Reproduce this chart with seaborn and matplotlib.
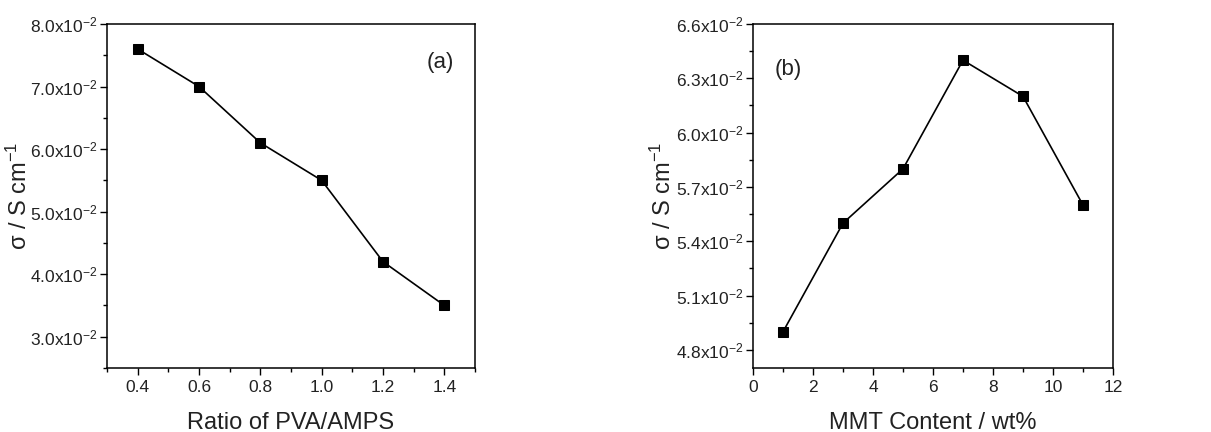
"""
Conductivity of PVA/AMPS membranes: (a) vs PVA/AMPS ratio, (b) vs MMT content.
Saves out.png.
"""

import matplotlib.pyplot as plt
import pandas as pd
import seaborn as sns
from matplotlib.ticker import FuncFormatter, MultipleLocator

ratio = [0.4, 0.6, 0.8, 1.0, 1.2, 1.4]
sigma_ratio = [0.076, 0.070, 0.061, 0.055, 0.042, 0.035]

mmt_content = [1, 3, 5, 7, 9, 11]
sigma_mmt = [0.049, 0.055, 0.058, 0.064, 0.062, 0.056]

sns.set_theme(style="ticks")
plt.rcParams["font.family"] = ["Liberation Sans", "DejaVu Sans"]
plt.rcParams["mathtext.fontset"] = "custom"
plt.rcParams["mathtext.rm"] = "Liberation Sans"
plt.rcParams["mathtext.it"] = "Liberation Sans:italic"
plt.rcParams["mathtext.default"] = "regular"

TEXT = "#222222"


def sci_fmt(val, _pos):
    return r"$%.1f\mathrm{x}10^{-2}$" % (val * 100)


def style_axes(ax, ylab_x):
    for sp in ax.spines.values():
        sp.set_color("black")
        sp.set_linewidth(1.1)
    ax.tick_params(which="both", direction="out", color="black",
                   top=False, right=False, labelsize=12.5, labelcolor=TEXT)
    ax.tick_params(which="major", length=5, width=1.0)
    ax.tick_params(which="minor", length=3, width=1.0)
    ax.tick_params(axis="y", which="both", pad=1.5)
    ax.tick_params(axis="x", which="both", pad=4)
    ax.yaxis.set_major_formatter(FuncFormatter(sci_fmt))
    ax.set_ylabel(r"$\sigma$ / S cm$^{-1}$", fontsize=17, color=TEXT)
    ax.yaxis.set_label_coords(ylab_x, 0.5)
    ax.xaxis.set_label_coords(0.5, -0.128)


fig = plt.figure(figsize=(12.11, 4.32), dpi=100)

df_a = pd.DataFrame({"ratio": ratio, "sigma": sigma_ratio})
ax1 = fig.add_axes([107 / 1211, 64 / 432, 368 / 1211, 344 / 432])
sns.lineplot(data=df_a, x="ratio", y="sigma", marker="s", markersize=7,
             color="black", linewidth=1.2, markeredgecolor="black", ax=ax1)
ax1.set_xlim(0.3, 1.5)
ax1.set_ylim(0.025, 0.08)
ax1.xaxis.set_major_locator(MultipleLocator(0.2))
ax1.xaxis.set_minor_locator(MultipleLocator(0.1))
ax1.yaxis.set_major_locator(MultipleLocator(0.01))
ax1.yaxis.set_minor_locator(MultipleLocator(0.005))
ax1.xaxis.set_major_formatter(FuncFormatter(lambda v, p: f"{v:.1f}"))
ax1.set_xlabel("Ratio of PVA/AMPS", fontsize=17, color=TEXT)
style_axes(ax1, -0.205)
ax1.text(1.386, 0.0739, "(a)", fontsize=16, ha="center", va="center", color=TEXT)

df_b = pd.DataFrame({"mmt": mmt_content, "sigma": sigma_mmt})
ax2 = fig.add_axes([753 / 1211, 64 / 432, 360 / 1211, 344 / 432])
sns.lineplot(data=df_b, x="mmt", y="sigma", marker="s", markersize=7,
             color="black", linewidth=1.2, markeredgecolor="black", ax=ax2)
ax2.set_xlim(0, 12)
ax2.set_ylim(0.047, 0.066)
ax2.xaxis.set_major_locator(MultipleLocator(2))
ax2.xaxis.set_minor_locator(MultipleLocator(1))
ax2.yaxis.set_major_locator(MultipleLocator(0.003))
ax2.yaxis.set_minor_locator(MultipleLocator(0.0015))
ax2.set_xlabel("MMT Content / wt%", fontsize=17, color=TEXT)
style_axes(ax2, -0.215)
ax2.text(1.17, 0.0635, "(b)", fontsize=16, ha="center", va="center", color=TEXT)

fig.savefig("out.png", dpi=100)
plt.close(fig)
